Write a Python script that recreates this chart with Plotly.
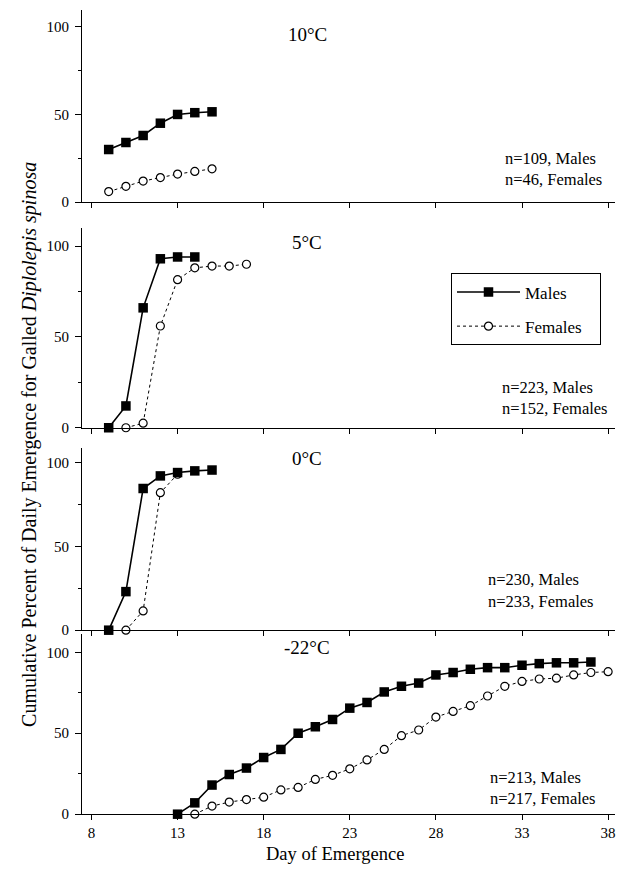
import plotly.graph_objects as go

# ---------------- data ----------------
panel_titles = ["10°C", "5°C", "0°C", "-22°C"]
n_males_text = ["n=109, Males", "n=223, Males", "n=230, Males", "n=213, Males"]
n_females_text = ["n=46, Females", "n=152, Females", "n=233, Females", "n=217, Females"]
series_names = ["Males", "Females"]

# 10 °C
days_m_10 = [9, 10, 11, 12, 13, 14, 15]
males_10 = [30, 34, 38, 45, 50, 51, 51.5]
days_f_10 = [9, 10, 11, 12, 13, 14, 15]
females_10 = [6, 9, 12, 14, 16, 17.5, 19]

# 5 °C
days_m_5 = [9, 10, 11, 12, 13, 14]
males_5 = [0, 12, 66, 93, 94, 94]
days_f_5 = [10, 11, 12, 13, 14, 15, 16, 17]
females_5 = [0, 2.5, 56, 81.5, 88, 89, 89, 90]

# 0 °C
days_m_0 = [9, 10, 11, 12, 13, 14, 15]
males_0 = [0, 23, 84.5, 92, 94, 95, 95.5]
days_f_0 = [10, 11, 12, 13]
females_0 = [0, 11.5, 82, 93]

# -22 °C
days_m_22 = list(range(13, 38))
males_22 = [0, 7, 18, 24.5, 28.5, 35, 40, 50, 54, 58.5, 65.5, 69, 75.5, 79, 81, 86, 87.5,
            89.5, 90.5, 90.5, 92, 93, 93.5, 93.5, 94]
days_f_22 = list(range(14, 39))
females_22 = [0, 5, 7.5, 9, 10.5, 15, 16.5, 21.5, 24, 28, 33.5, 40, 48.5, 52, 60, 63.5, 67,
              73, 79, 82, 83.5, 84, 86, 87.5, 88]

x_ticks = [8, 13, 18, 23, 28, 33, 38]
y_ticks = [0, 50, 100]

males = [(days_m_10, males_10), (days_m_5, males_5), (days_m_0, males_0), (days_m_22, males_22)]
females = [(days_f_10, females_10), (days_f_5, females_5), (days_f_0, females_0), (days_f_22, females_22)]

# ---------------- layout geometry (pixels) ----------------
W, H = 620, 875
ML, MR = 82, 5
PW = W - ML - MR

def px2x(px):
    return (px - ML) / PW

def py2y(py):
    return 1 - py / H

panel_px = [(10, 204), (230, 431.7), (451.7, 636), (640, 821.7)]
y_max = [109.6, 110, 108.9, 111.2]
x_range = [7.45, 38.4]

FONT = "Liberation Serif, Times New Roman, serif"
PAD = "\u00a0\u00a0\u00a0"

fig = go.Figure()

for i in range(4):
    xa = "x" if i == 0 else f"x{i+1}"
    ya = "y" if i == 0 else f"y{i+1}"
    dm, vm = males[i]
    df, vf = females[i]
    fig.add_trace(go.Scatter(
        x=df, y=vf, xaxis=xa, yaxis=ya, mode="lines+markers", name=series_names[1] + PAD,
        legendgroup="f", legendrank=2, showlegend=(i == 0), cliponaxis=False,
        line=dict(color="black", width=1, dash="dot"),
        marker=dict(symbol="circle", size=8, color="white", line=dict(color="black", width=1.2)),
    ))
    fig.add_trace(go.Scatter(
        x=dm, y=vm, xaxis=xa, yaxis=ya, mode="lines+markers", name=series_names[0],
        legendgroup="m", legendrank=1, showlegend=(i == 0), cliponaxis=False,
        line=dict(color="black", width=1.6),
        marker=dict(symbol="square", size=9.5, color="black"),
    ))

layout = dict(
    width=W, height=H,
    margin=dict(l=ML, r=MR, t=0, b=0),
    paper_bgcolor="white", plot_bgcolor="white",
    font=dict(family=FONT, color="black", size=15),
    legend=dict(
        x=px2x(451), y=py2y(276), xanchor="left", yanchor="top",
        bordercolor="black", borderwidth=1, bgcolor="white",
        font=dict(family=FONT, size=17, color="black"),
        traceorder="grouped", tracegroupgap=9, itemwidth=63,
    ),
)

for i in range(4):
    top, bot = panel_px[i]
    xkey = "xaxis" if i == 0 else f"xaxis{i+1}"
    ykey = "yaxis" if i == 0 else f"yaxis{i+1}"
    xa_anchor = "y" if i == 0 else f"y{i+1}"
    ya_anchor = "x" if i == 0 else f"x{i+1}"
    layout[xkey] = dict(
        domain=[0, 1], anchor=xa_anchor, range=x_range,
        tickvals=x_ticks, ticktext=[str(t) for t in x_ticks],
        showticklabels=(i == 3), ticks="outside", ticklen=5, tickcolor="black",
        showline=True, linecolor="black", linewidth=1, showgrid=False, zeroline=False,
        tickfont=dict(family=FONT, size=15, color="black"),
    )
    layout[ykey] = dict(
        domain=[py2y(bot), py2y(top)], anchor=ya_anchor, range=[0, y_max[i]],
        tickvals=y_ticks, ticks="outside", ticklen=6, tickcolor="black",
        ticklabelstandoff=3,
        minor=dict(tickvals=[25, 75], ticks="outside", ticklen=3, tickcolor="black"),
        showline=True, linecolor="black", linewidth=1, showgrid=False, zeroline=False,
        tickfont=dict(family=FONT, size=15, color="black"),
    )

fig.update_layout(**layout)

title_py = [35, 245, 463, 653]
n_py = [(160, 181), (391, 412), (585, 607), (785, 806)]
n_left_px = [503, 500, 486, 488]

ann = []
for i in range(4):
    ann.append(dict(xref="paper", yref="paper", x=px2x(307), y=py2y(title_py[i]),
                    text=panel_titles[i], showarrow=False, xanchor="center", yanchor="middle",
                    font=dict(family=FONT, size=19, color="black")))
    ann.append(dict(xref="paper", yref="paper", x=px2x(n_left_px[i]), y=py2y(n_py[i][0]),
                    text=n_males_text[i], showarrow=False, xanchor="left", yanchor="middle",
                    font=dict(family=FONT, size=16.5, color="black")))
    ann.append(dict(xref="paper", yref="paper", x=px2x(n_left_px[i]), y=py2y(n_py[i][1]),
                    text=n_females_text[i], showarrow=False, xanchor="left", yanchor="middle",
                    font=dict(family=FONT, size=16.5, color="black")))

ann.append(dict(xref="paper", yref="paper", x=px2x(335), y=py2y(862),
                text="Day of Emergence", showarrow=False, xanchor="center", yanchor="middle",
                font=dict(family=FONT, size=18.5, color="black")))
ann.append(dict(xref="paper", yref="paper", x=px2x(30), y=py2y(449),
                text="Cumulative Percent of Daily Emergence for Galled <i>Diplolepis spinosa</i>",
                textangle=-90, showarrow=False, xanchor="center", yanchor="middle",
                font=dict(family=FONT, size=20, color="black")))

fig.update_layout(annotations=ann)

fig.write_html("out.html", config={"displayModeBar": False},
               post_script="document.body.style.margin='0px';")
